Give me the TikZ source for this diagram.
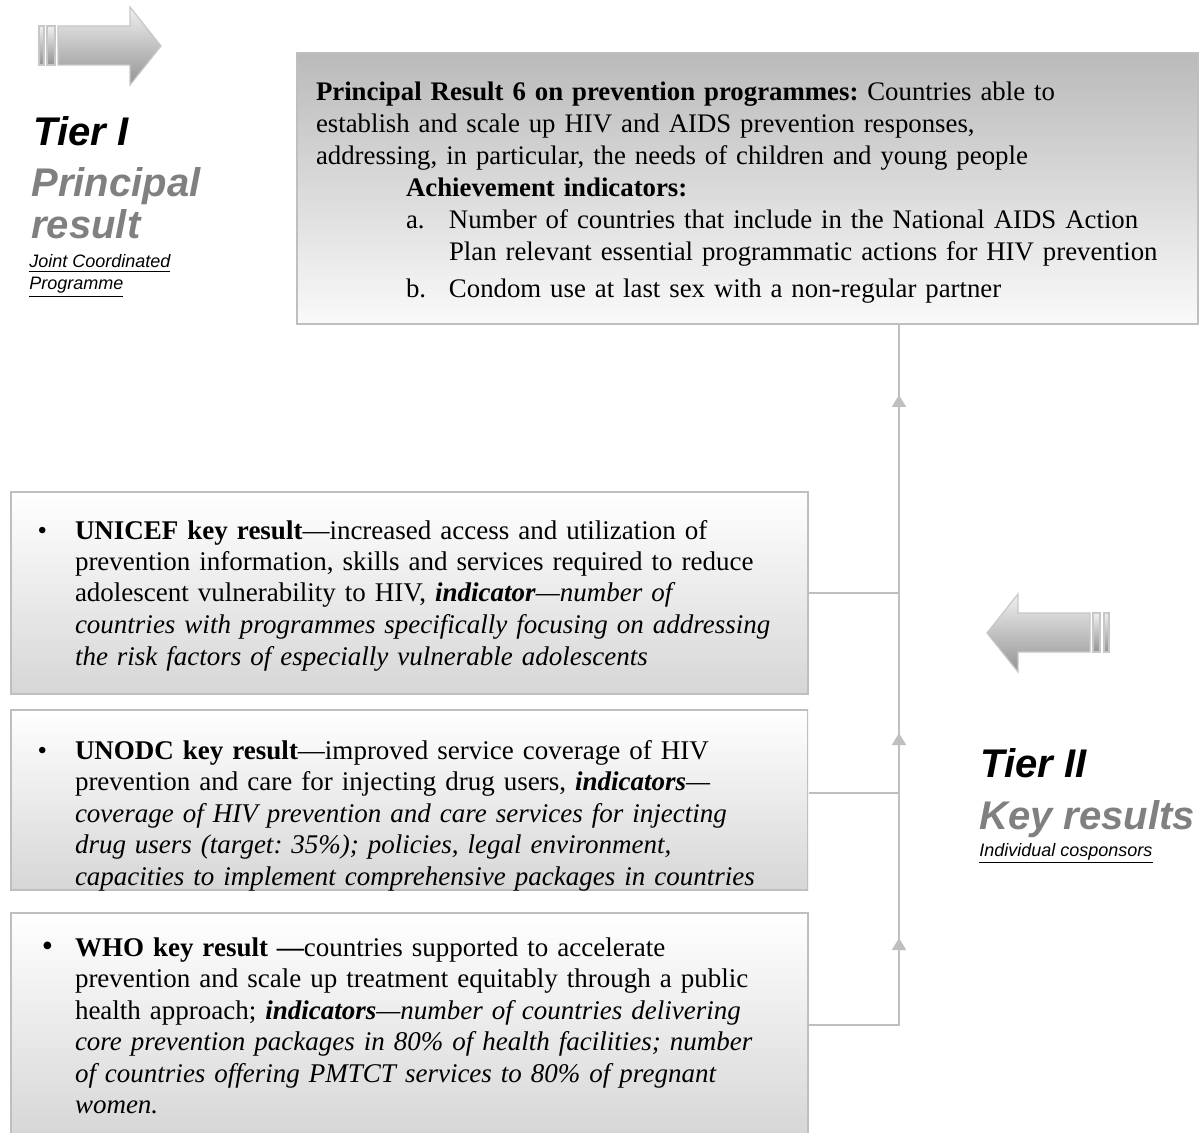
\documentclass[tikz,border=0pt]{standalone}
\usepackage{fontspec}
\setmainfont{Liberation Serif}
\setsansfont{Liberation Sans}
\usetikzlibrary{arrows.meta,decorations.markings}
\frenchspacing
\tikzset{%
  result box/.style={
    rectangle,
    draw=black!25,
    line width=1pt,
    inner sep=0pt,
    anchor=north west,
    align=left,
  },
  key box/.style={
    result box,
    top color=white, bottom color=black!16,
    text width=398.5pt,
    font=\fontsize{13.5}{15.75}\selectfont,
    execute at begin node={\leftskip=32pt\relax}
  },
  tier title/.style={
    anchor=base west, inner sep=0pt, align=left,
    font=\sffamily\bfseries\itshape\fontsize{20}{21}\selectfont
  },
  tier note/.style={
    anchor=base west, inner sep=0pt, align=left,
    font=\sffamily\itshape\fontsize{9}{11}\selectfont
  },
  block arrow/.style={
    draw=black!22, line width=0.6pt, top color=black!6, bottom color=black!42
  },
  link up/.style={
    draw=black!25, color=black!25, line width=1pt,
    postaction={decorate, decoration={markings,
      mark=at position #1 with {\arrow{Triangle[length=6pt,width=7pt]}}}}
  },
}

\begin{document}
\begin{tikzpicture}[x=0.5pt, y=-0.5pt]
\useasboundingbox (0,0) rectangle (1204,1133);

% principal result
\node [result box, top color=black!27, bottom color=black!2, text width=450.5pt,
  font=\fontsize{13.4}{16}\selectfont, execute at begin node={\leftskip=9.5pt\relax},
  text height=24pt, text depth=111.5pt] (principal) at (296,52)
  {\textbf{Principal Result 6 on prevention programmes:} Countries able to\\
   establish and scale up HIV and AIDS prevention responses,\\
   addressing, in particular, the needs of children and young people\\
   \hspace*{45pt}\textbf{Achievement indicators:}\\
   \hspace*{45pt}\makebox[21.5pt][l]{a.}Number of countries that include in the National AIDS Action\\
   \hspace*{66.5pt}Plan relevant essential programmatic actions for HIV prevention\\[2.5pt]
   \hspace*{45pt}\makebox[21.5pt][l]{b.}Condom use at last sex with a non-regular partner};

% key results
\node [key box, text height=23.5pt, text depth=77.5pt] (unicef) at (10,491)
  {\llap{\textbullet\hspace{14pt}}\textbf{UNICEF key result}\textemdash increased access and utilization of\\
   prevention information, skills and services required to reduce\\
   adolescent vulnerability to HIV, \textbf{\textit{indicator}}\textit{\textemdash number of}\\
   \textit{countries with programmes specifically focusing on addressing}\\
   \textit{the risk factors of especially vulnerable adolescents}};

\begin{scope}
\clip (9,708) rectangle (808,890);
\node [key box, text height=24.5pt, text depth=65.5pt] (unodc) at (10,709)
  {\llap{\textbullet\hspace{14pt}}\textbf{UNODC key result}\textemdash improved service coverage of HIV\\
   prevention and care for injecting drug users, \textbf{\textit{indicators}}\textit{\textemdash}\\
   \textit{coverage of HIV prevention and care services for injecting}\\
   \textit{drug users (target: 35\%); policies, legal environment,}\\
   \textit{capacities to implement comprehensive packages in countries}};
\end{scope}

\node [key box, text height=21.5pt, text depth=90.5pt] (who) at (10,912)
  {\llap{{\fontsize{16}{16}\selectfont\textbullet}\hspace{11pt}}\textbf{WHO key result \textemdash}countries supported to accelerate\\
   prevention and scale up treatment equitably through a public\\
   health approach; \textbf{\textit{indicators}}\textit{\textemdash number of countries delivering}\\
   \textit{core prevention packages in 80\% of health facilities; number}\\
   \textit{of countries offering PMTCT services to 80\% of pregnant}\\
   \textit{women.}};

%%%%%%%%%%%%%%%%%%%%%%%%%%%%%%%%%%%%%%%%%%%%%%%%%%%%%%%%%%%%%%%%%%%%%%%%%%%%%
% tiers

\node [tier title] (tier-1) at (33,146) {Tier I};
\node [tier title, text=black!50] (tier-1-name) at (31,239) {Principal\\result};
\node [tier note] (tier-1-note) at (29,290) {\underline{Joint Coordinated}\\\underline{Programme}};

\node [tier title] (tier-2) at (980,777) {Tier II};
\node [tier title, text=black!50] (tier-2-name) at (979,829) {Key results};
\node [tier note] (tier-2-note) at (979,856) {\underline{Individual cosponsors}};

\draw [block arrow] (58,26) -- (130,26) -- (130,7) -- (161,46) -- (130,85) -- (130,65) -- (58,65) -- cycle;
\draw [block arrow] (39,26) rectangle (44,65);
\draw [block arrow] (47,26) rectangle (55,65);

\draw [block arrow] (1090,613) -- (1018,613) -- (1018,594) -- (987,633) -- (1018,672) -- (1018,652) -- (1090,652) -- cycle;
\draw [block arrow] (1093,613) rectangle (1100,652);
\draw [block arrow] (1104,613) rectangle (1109,652);

%%%%%%%%%%%%%%%%%%%%%%%%%%%%%%%%%%%%%%%%%%%%%%%%%%%%%%%%%%%%%%%%%%%%%%%%%%%%%
% connections

\draw [link up=144pt] (unicef.east) -| ([xshift=75.75pt]principal.south);
\draw [link up=75pt] ([yshift=3.5pt]unodc.east) -| ([xshift=75.75pt]principal.south);
\draw [link up=88.5pt] (who.east) -| ([xshift=75.75pt]principal.south);

\end{tikzpicture}
\end{document}
